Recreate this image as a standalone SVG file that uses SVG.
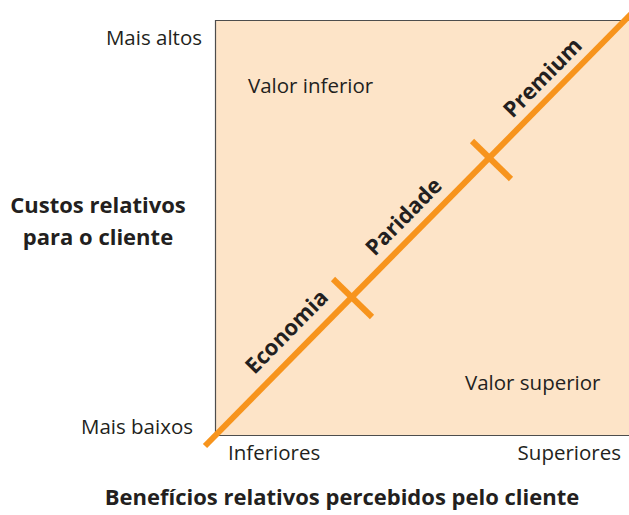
<svg xmlns="http://www.w3.org/2000/svg" width="629" height="515" viewBox="0 0 629 515">
<style>
.t{font-family:"Open Sans","Liberation Sans",sans-serif;font-size:20.5px;fill:#231f20}
.b{font-family:"Open Sans","Liberation Sans",sans-serif;font-size:22px;font-weight:bold;fill:#231f20}
.o{stroke:#f7941d;stroke-width:6;fill:none}
</style>
<rect width="629" height="515" fill="#fff"/>
<g id="plot">
<path d="M629.5 20.5 H215.5 V435.5 H629.5" fill="#fde4c8" stroke="#4d4d4d" stroke-width="1.2"/>
</g>
<g id="connectors">
<line class="o" x1="205" y1="446" x2="631" y2="14"/>
<line class="o" x1="333" y1="279" x2="372" y2="317"/>
<line class="o" x1="472" y1="141" x2="511" y2="179"/>
</g>
<g id="labels-diag">
<text class="b" transform="translate(292,337) rotate(-45.5)" text-anchor="middle">Economia</text>
<text class="b" transform="translate(409,222) rotate(-45.5)" text-anchor="middle">Paridade</text>
<text class="b" transform="translate(548,83) rotate(-45.5)" text-anchor="middle">Premium</text>
</g>
<g id="axis-y">
<text class="t" x="202" y="45" text-anchor="end">Mais altos</text>
<text class="t" x="193" y="434" text-anchor="end">Mais baixos</text>
<text class="b" x="98" y="213" text-anchor="middle">Custos relativos</text>
<text class="b" x="98" y="245" text-anchor="middle">para o cliente</text>
</g>
<g id="axis-x">
<text class="t" x="228" y="460">Inferiores</text>
<text class="t" x="621" y="460" text-anchor="end">Superiores</text>
<text class="b" x="342" y="505" text-anchor="middle">Benefícios relativos percebidos pelo cliente</text>
</g>
<g id="regions">
<text class="t" x="248" y="93">Valor inferior</text>
<text class="t" x="465" y="390">Valor superior</text>
</g>
</svg>
